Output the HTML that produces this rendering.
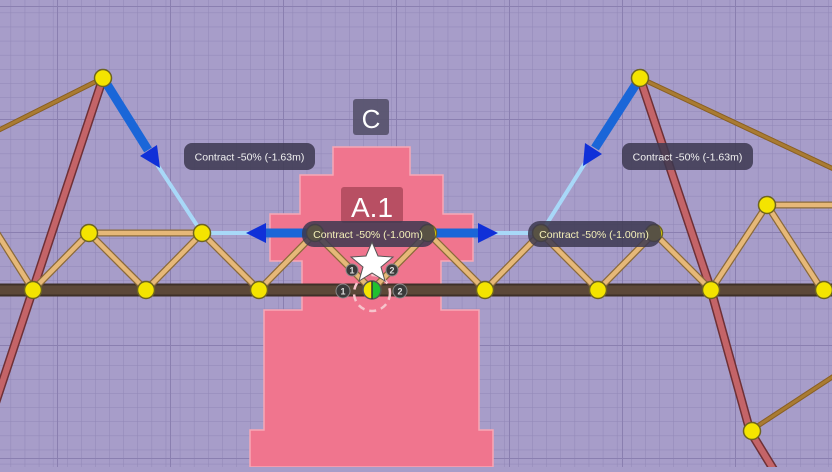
<!DOCTYPE html>
<html><head><meta charset="utf-8"><style>
html,body{margin:0;padding:0;}
body{width:832px;height:467px;overflow:hidden;background:#a79dc9;font-family:"Liberation Sans",sans-serif;}
</style></head><body>
<svg width="832" height="467" viewBox="0 0 832 467" xmlns="http://www.w3.org/2000/svg">
<defs>
<pattern id="g" width="14.1" height="14.1" patternUnits="userSpaceOnUse" x="-3" y="-1">
<path d="M14.1 0V14.1H0" fill="none" stroke="#9187b6" stroke-width="1"/>
</pattern>
<pattern id="G" width="113" height="113" patternUnits="userSpaceOnUse" x="-55" y="7">
<path d="M113 0V113H0" fill="none" stroke="#8a7fb0" stroke-width="2"/>
</pattern>
</defs>
<rect width="832" height="467" fill="#a79dc9"/>
<rect width="832" height="467" fill="url(#g)"/>
<rect width="832" height="467" fill="url(#G)"/>
<path d="M333 147H410V175H443V214H473V261H441V310H479V430H493V467H250V430H264V310H302V261H270V214H300V175H333Z" fill="#f0758e" stroke="#f7a8b6" stroke-width="1.5"/>
<g stroke="#8a5f22" stroke-width="5" stroke-linecap="round"><line x1="-5" y1="132" x2="103" y2="78"/><line x1="640" y1="78" x2="840" y2="172"/><line x1="750" y1="431" x2="840" y2="372"/></g>
<g stroke="#a97b32" stroke-width="3" stroke-linecap="round"><line x1="-5" y1="132" x2="103" y2="78"/><line x1="640" y1="78" x2="840" y2="172"/><line x1="750" y1="431" x2="840" y2="372"/></g>
<g stroke="#6e3036" stroke-width="9" stroke-linecap="round" fill="none"><path d="M103 78L-30 480"/><path d="M640 78L711 290L750 431L780 480"/></g>
<g stroke="#c46468" stroke-width="6" stroke-linecap="round" fill="none"><path d="M103 78L-30 480"/><path d="M640 78L711 290L750 431L780 480"/></g>
<line x1="0" y1="290" x2="832" y2="290" stroke="#3e3028" stroke-width="13"/>
<line x1="0" y1="290" x2="832" y2="290" stroke="#5c4838" stroke-width="9"/>
<g stroke="#8b6a3a" stroke-width="7" stroke-linecap="round" fill="none">
<path d="M-5 230L33 290L89 233L146 290L202 233L259 290L315 233L372 290L428 233L485 290L541 233L598 290L654 233L711 290L767 205L822 290"/>
<path d="M89 233H202M767 205H840"/></g>
<g stroke="#e6b878" stroke-width="4.5" stroke-linecap="round" fill="none">
<path d="M-5 230L33 290L89 233L146 290L202 233L259 290L315 233L372 290L428 233L485 290L541 233L598 290L654 233L711 290L767 205L822 290"/>
<path d="M89 233H202M767 205H840"/></g>
<g stroke="#a8d8f8" stroke-width="4" stroke-linecap="round">
<line x1="158" y1="166" x2="202" y2="233"/><line x1="202" y1="233" x2="250" y2="233"/>
<line x1="585" y1="163" x2="541" y2="233"/><line x1="493" y1="233" x2="541" y2="233"/></g>
<g stroke="#1a66d8" stroke-width="9">
<line x1="103" y1="78" x2="148" y2="150"/><line x1="315" y1="233" x2="265" y2="233"/>
<line x1="640" y1="78" x2="595" y2="148"/><line x1="428" y1="233" x2="478" y2="233"/></g>
<g fill="#1030d8">
<polygon points="160,168 140,156 157,145"/>
<polygon points="246,233 266,223 266,243"/>
<polygon points="583,166 585,143 602,154"/>
<polygon points="498,233 478,223 478,243"/></g>
<g fill="#f4e400" stroke="#6e6420" stroke-width="1.5">
<circle cx="103" cy="78" r="8.5"/><circle cx="640" cy="78" r="8.5"/>
<circle cx="33" cy="290" r="8.5"/><circle cx="146" cy="290" r="8.5"/><circle cx="259" cy="290" r="8.5"/><circle cx="485" cy="290" r="8.5"/><circle cx="598" cy="290" r="8.5"/><circle cx="711" cy="290" r="8.5"/><circle cx="824" cy="290" r="8.5"/>
<circle cx="89" cy="233" r="8.5"/><circle cx="202" cy="233" r="8.5"/><circle cx="541" cy="233" r="8.5"/><circle cx="654" cy="233" r="8.5"/><circle cx="767" cy="205" r="8.5"/>
<circle cx="315" cy="233" r="8.5"/><circle cx="428" cy="233" r="8.5"/>
<circle cx="752" cy="431" r="8.5"/></g>
<rect x="353" y="99" width="36" height="36" rx="3" fill="#57526c" fill-opacity="0.92"/>
<text x="371" y="128" font-size="26" fill="#fff" text-anchor="middle">C</text>
<rect x="341" y="187" width="62" height="36" rx="3" fill="#8a3040" fill-opacity="0.55"/>
<text x="372" y="217" font-size="28" fill="#fff" text-anchor="middle">A.1</text>
<g fill="#3c3850" fill-opacity="0.85">
<rect x="184" y="143" width="131" height="27" rx="8"/><rect x="622" y="143" width="131" height="27" rx="8"/>
<rect x="302" y="221" width="133" height="26" rx="12"/><rect x="528" y="221" width="133" height="26" rx="12"/></g>
<g font-size="10.5" fill="#f0f0f0" text-anchor="middle">
<text x="249.5" y="160.5">Contract -50% (-1.63m)</text><text x="687.5" y="160.5">Contract -50% (-1.63m)</text></g>
<g font-size="10.5" fill="#f4f0b8" text-anchor="middle">
<text x="368" y="238">Contract -50% (-1.00m)</text><text x="594" y="238">Contract -50% (-1.00m)</text></g>
<circle cx="372" cy="293" r="18" fill="none" stroke="#f6c4cc" stroke-width="2.5" stroke-dasharray="7 5"/>
<polygon points="372,242 378,256 393,257 381,267 385,281 372,273 359,281 363,267 351,257 366,256" fill="#fff" stroke="#555" stroke-width="1"/>
<g fill="#3a3a3a" stroke="#888" stroke-width="1"><circle cx="352" cy="270" r="6"/><circle cx="392" cy="270" r="6"/><circle cx="343" cy="291" r="7"/><circle cx="400" cy="291" r="7"/></g>
<g fill="#ddd" font-size="9" font-weight="bold" text-anchor="middle"><text x="352" y="273.5">1</text><text x="392" y="273.5">2</text><text x="343" y="294.5">1</text><text x="400" y="294.5">2</text></g>
<path d="M372 281A9 9 0 0 0 372 299Z" fill="#f4e400"/><path d="M372 281A9 9 0 0 1 372 299Z" fill="#20c030"/>
<circle cx="372" cy="290" r="9" fill="none" stroke="#555" stroke-width="1.5"/><line x1="372" y1="281" x2="372" y2="299" stroke="#333" stroke-width="1.5"/>
</svg>
</body></html>
